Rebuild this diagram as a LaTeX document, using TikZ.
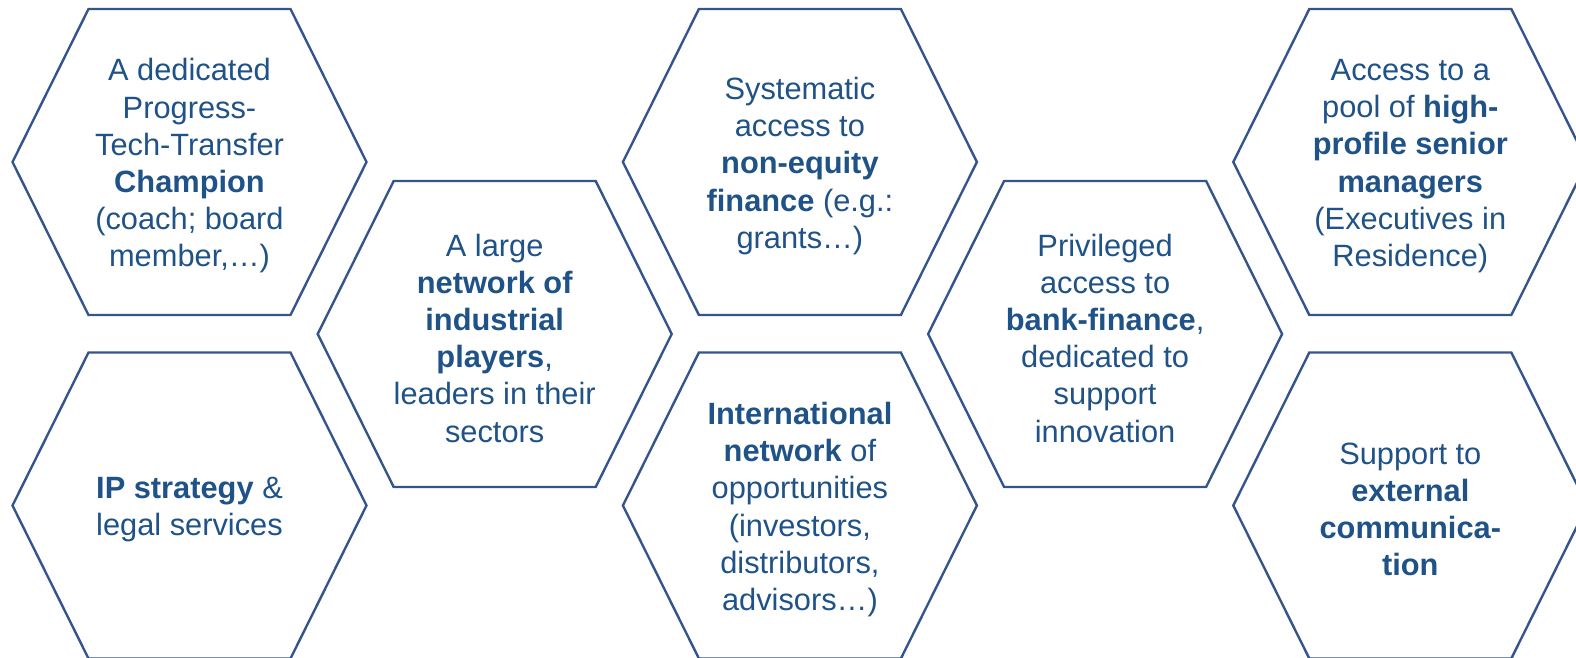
\documentclass[tikz,border=0pt]{standalone}
\usepackage{fontspec}
\setmainfont{Liberation Sans}
\usetikzlibrary{calc}
\definecolor{hexblue}{HTML}{34558C}
\definecolor{hextext}{HTML}{1F5287}

% one hexagonal cell: name, centre x, centre y, text
\newcommand\hexcell[4]{%
  \coordinate (#1-c) at (#2,#3);
  \node[hexlabel] (#1) at (#1-c) {#4};
  \draw[hexline] ($(#1-c)+(-177,0)$) -- ++(76,153) -- ++(202,0)
    -- ++(76,-153) -- ++(-76,-153) -- ++(-202,0) -- cycle;}

\begin{document}
\begin{tikzpicture}[x=1pt,y=1pt,
  hexline/.style={draw=hexblue,line width=2.4pt,line join=miter},
  hexlabel/.style={align=center,text=hextext,inner sep=0pt,yshift=-4pt,
    font=\fontsize{30.8}{37.2}\selectfont}]
\useasboundingbox (0,0) rectangle (1576,-657);
\clip (0,0) rectangle (1576,-657);

\hexcell{champion}{189.5}{-162}{A dedicated\\Progress-\\Tech-Transfer\\\textbf{Champion}\\(coach; board\\member,…)}
\hexcell{ipstrat}{189.5}{-505.5}{\textbf{IP strategy} \&\\legal services}
\hexcell{industry}{494.7}{-334}{A large\\\textbf{network of}\\\textbf{industrial}\\\textbf{players},\\leaders in their\\sectors}
\hexcell{nonequity}{799.9}{-162}{Systematic\\access to\\\textbf{non-equity}\\\textbf{finance} (e.g.:\\grants…)}
\hexcell{intl}{799.9}{-505.5}{\textbf{International}\\\textbf{network} of\\opportunities\\(investors,\\distributors,\\advisors…)}
\hexcell{bank}{1105.1}{-334}{Privileged\\access to\\\textbf{bank-finance},\\dedicated to\\support\\innovation}
\hexcell{managers}{1410.3}{-162}{Access to a\\pool of \textbf{high-}\\\textbf{profile senior}\\\textbf{managers}\\(Executives in\\Residence)}
\hexcell{comms}{1410.3}{-505.5}{Support to\\\textbf{external}\\\textbf{communica-}\\\textbf{tion}}
\end{tikzpicture}
\end{document}
